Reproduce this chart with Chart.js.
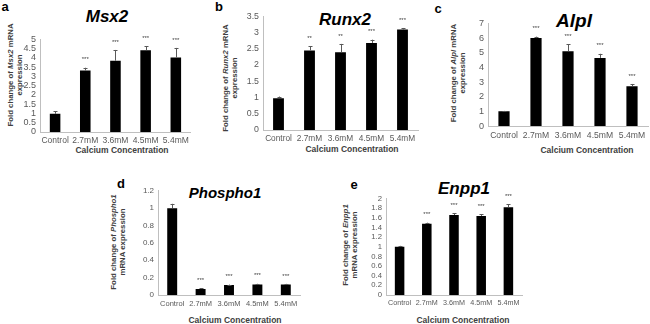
<!DOCTYPE html>
<html>
<head>
<meta charset="utf-8">
<script src="https://cdn.jsdelivr.net/npm/chart.js@4.4.0/dist/chart.umd.min.js"></script>
<style>
  body { margin: 0; background: #fff; }
  #wrap { position: relative; width: 650px; height: 324px; overflow: hidden; font-family: "Liberation Sans", Arial, sans-serif; }
  canvas { position: absolute; }
  .t { position: absolute; white-space: nowrap; transform: translate(-50%, -50%); line-height: 1; }
  .letter { font-weight: bold; font-size: 13px; color: #000; }
  .gene { font-weight: bold; font-style: italic; color: #000; }
  .xt { font-weight: bold; font-size: 8.5px; color: #404040; }
  .yt { font-weight: bold; font-size: 7.8px; color: #404040; text-align: center; line-height: 1.15; transform: translate(-50%, -50%) rotate(-90deg); }
</style>
</head>
<body>
<div id="wrap">
  <div class="t letter" style="left:5px;top:6px">a</div>
  <div class="t letter" style="left:219px;top:6px">b</div>
  <div class="t letter" style="left:438px;top:8px">c</div>
  <div class="t letter" style="left:121px;top:183px">d</div>
  <div class="t letter" style="left:354px;top:184px">e</div>

  <div class="t gene" style="left:107px;top:16px;font-size:17px">Msx2</div>
  <div class="t gene" style="left:345px;top:19px;font-size:17px">Runx2</div>
  <div class="t gene" style="left:574px;top:20px;font-size:19px">Alpl</div>
  <div class="t gene" style="left:225px;top:192px;font-size:15px">Phospho1</div>
  <div class="t gene" style="left:464px;top:188px;font-size:17px">Enpp1</div>

  <div class="t xt" style="left:122px;top:150px">Calcium Concentration</div>
  <div class="t xt" style="left:352px;top:149px">Calcium Concentration</div>
  <div class="t xt" style="left:587px;top:150px">Calcium Concentration</div>
  <div class="t xt" style="left:235px;top:320px">Calcium Concentration</div>
  <div class="t xt" style="left:463px;top:320px">Calcium Concentration</div>

  <div class="t yt" style="left:16px;top:75px">Fold change of <i>Msx2</i> mRNA<br>expression</div>
  <div class="t yt" style="left:231px;top:78px">Fold change of <i>Runx2</i> mRNA<br>expression</div>
  <div class="t yt" style="left:459px;top:73px">Fold change of <i>Alpl</i> mRNA<br>expression</div>
  <div class="t yt" style="left:119px;top:242px">Fold change of <i>Phospho1</i><br>mRNA expression</div>
  <div class="t yt" style="left:351px;top:245px">Fold change of <i>Enpp1</i><br>mRNA expression</div>

  <canvas id="cA"></canvas>
  <canvas id="cB"></canvas>
  <canvas id="cC"></canvas>
  <canvas id="cD"></canvas>
  <canvas id="cE"></canvas>
</div>
<script>
const categories = ['Control', '2.7mM', '3.6mM', '4.5mM', '5.4mM'];

const msx2Values = [0.98, 3.32, 3.85, 4.42, 4.02];
const msx2Errors = [0.13, 0.15, 0.58, 0.22, 0.52];
const msx2Stars = ['', '***', '***', '***', '***'];

const runx2Values = [0.98, 2.45, 2.39, 2.68, 3.09];
const runx2Errors = [0.05, 0.13, 0.26, 0.1, 0.05];
const runx2Stars = ['', '**', '**', '***', '***'];

const alplValues = [1.0, 6.0, 5.1, 4.65, 2.72];
const alplErrors = [0.03, 0.1, 0.47, 0.28, 0.15];
const alplStars = ['', '***', '***', '***', '***'];

const phospho1Values = [1.0, 0.07, 0.115, 0.122, 0.122];
const phospho1Errors = [0.05, 0.005, 0.005, 0.007, 0.006];
const phospho1Stars = ['', '***', '***', '***', '***'];

const enpp1Values = [1.0, 1.48, 1.66, 1.64, 1.82];
const enpp1Errors = [0.02, 0.02, 0.04, 0.04, 0.06];
const enpp1Stars = ['', '***', '***', '***', '***'];

const YW = 30, PT = 8, PR = 2, XH = 16;

function makePanel(id, box, values, errors, stars, yMax, yStep, tickSize) {
  const cv = document.getElementById(id);
  const w = box.right - box.left + YW + PR;
  const h = box.bottom - box.top + PT + XH;
  cv.width = w;
  cv.height = h;
  cv.style.left = (box.left - YW) + 'px';
  cv.style.top = (box.top - PT) + 'px';

  const errBars = {
    id: 'errBars',
    afterDatasetsDraw(chart) {
      const ctx = chart.ctx;
      const y = chart.scales.y;
      const meta = chart.getDatasetMeta(0);
      ctx.save();
      meta.data.forEach((bar, i) => {
        const top = y.getPixelForValue(values[i] + errors[i]);
        ctx.strokeStyle = '#595959';
        ctx.lineWidth = 1;
        ctx.beginPath();
        ctx.moveTo(Math.round(bar.x) + 0.5, bar.y);
        ctx.lineTo(Math.round(bar.x) + 0.5, top);
        ctx.moveTo(Math.round(bar.x) - 1.5, Math.round(top) + 0.5);
        ctx.lineTo(Math.round(bar.x) + 2.5, Math.round(top) + 0.5);
        ctx.stroke();
        if (stars[i]) {
          ctx.fillStyle = '#404040';
          ctx.font = '6px "Liberation Sans", Arial, sans-serif';
          ctx.textAlign = 'center';
          ctx.textBaseline = 'middle';
          ctx.fillText(stars[i], bar.x, top - 8);
        }
      });
      ctx.restore();
    }
  };

  return new Chart(cv, {
    type: 'bar',
    data: {
      labels: categories,
      datasets: [{
        data: values,
        backgroundColor: '#000',
        borderWidth: 0,
        categoryPercentage: 1,
        barPercentage: 0.35
      }]
    },
    options: {
      responsive: false,
      animation: false,
      layout: { padding: { top: PT, right: PR, left: 0, bottom: 0 } },
      plugins: { legend: { display: false }, tooltip: { enabled: false } },
      scales: {
        x: {
          grid: { display: false, drawTicks: false },
          border: { display: true, color: '#bfbfbf' },
          ticks: {
            color: '#595959',
            font: { family: '"Liberation Sans", Arial, sans-serif', size: tickSize },
            padding: 4, maxRotation: 0, autoSkip: false
          },
          afterFit: s => { s.height = XH; }
        },
        y: {
          min: 0,
          max: yMax,
          grid: { display: false, drawTicks: false },
          border: { display: true, color: '#bfbfbf' },
          ticks: {
            stepSize: yStep,
            autoSkip: false,
            color: '#595959',
            font: { family: '"Liberation Sans", Arial, sans-serif', size: tickSize + 0.5 },
            padding: 4,
            callback: v => String(+v.toFixed(2))
          },
          afterFit: s => { s.width = YW; }
        }
      }
    },
    plugins: [errBars]
  });
}

makePanel('cA', { left: 40, right: 191, top: 38, bottom: 132 }, msx2Values, msx2Errors, msx2Stars, 5, 0.5, 8.5);
makePanel('cB', { left: 263, right: 418, top: 15, bottom: 130 }, runx2Values, runx2Errors, runx2Stars, 3.5, 0.5, 8.3);
makePanel('cC', { left: 488, right: 648, top: 22, bottom: 126 }, alplValues, alplErrors, alplStars, 7, 1, 8.6);
makePanel('cD', { left: 158, right: 300, top: 190, bottom: 295 }, phospho1Values, phospho1Errors, phospho1Stars, 1.2, 0.2, 7.5);
makePanel('cE', { left: 386, right: 522, top: 198, bottom: 295 }, enpp1Values, enpp1Errors, enpp1Stars, 2, 0.2, 7.2);
</script>
</body>
</html>
